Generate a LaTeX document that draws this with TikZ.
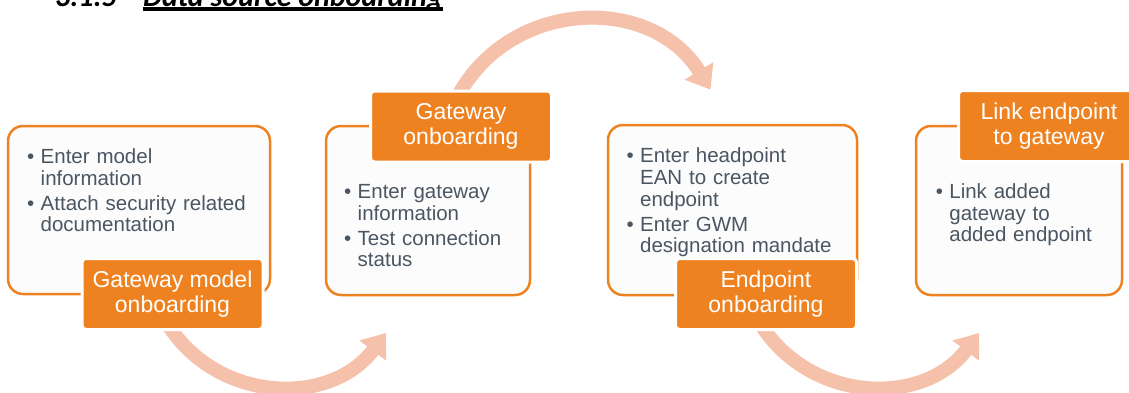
\documentclass[tikz,border=0pt]{standalone}
\usepackage{fontspec}
\setmainfont{Liberation Sans}
\newfontfamily\headfont{Carlito}
\usepackage{xcolor}
\usetikzlibrary{arrows.meta}

\definecolor{stepor}{HTML}{EF8220}
\definecolor{flowor}{HTML}{F5C1AB}
\definecolor{bodygray}{HTML}{4A5661}
\definecolor{boxfill}{HTML}{FCFCFC}

% one bullet line with hanging indent
\newcommand{\bitem}[1]{\setlength{\parskip}{3.3pt}\hangindent=13.5pt\hangafter=1\noindent\strut\makebox[13.5pt][l]{\textbullet}#1\par}

\begin{document}
\begin{tikzpicture}[x=1pt,y=1pt,
    stepbox/.style={draw=stepor, fill=boxfill, line width=2.5pt, rounded corners=15pt, inner sep=0pt},
    steplabel/.style={fill=stepor, draw=white, line width=3pt, rounded corners=4pt, minimum width=181pt, minimum height=71pt, inner sep=0pt, align=center, text=white, font=\fontsize{23}{25}\selectfont},
    bodytext/.style={anchor=north west, inner sep=0pt, align=left, text=bodygray, font=\fontsize{20.5}{21.7}\selectfont},
    titletext/.style={anchor=base west, inner sep=0pt, font=\headfont\bfseries\itshape\fontsize{30}{36}\selectfont},
    flow/.style={draw=flowor, line width=14pt, -{Triangle[width=32pt,length=22pt]}}]
    \useasboundingbox (0,0) rectangle (1129,392);
    \clip (0,0) rectangle (1129,392);

    % Heading (cut at the top)
    \node[titletext] (num) at (55,385.5) {3.1.5};
    \node[titletext] (ttl) at (143,385.5) {Data source onboarding};
    \draw[line width=3.4pt] ([yshift=-2.7pt]ttl.base west) -- ([yshift=-2.7pt]ttl.base east);

    % Step boxes
    \node[stepbox, minimum width=262pt, minimum height=168pt] (b1) at (139,182) {};
    \node[stepbox, minimum width=204pt, minimum height=169pt] (b2) at (428,181.5) {};
    \node[stepbox, minimum width=249pt, minimum height=170pt] (b3) at (732.5,182) {};
    \node[stepbox, minimum width=206pt, minimum height=169pt] (b4) at (1019,181.5) {};

    % Box texts
    \node[bodytext, text width=240pt] (t1) at (27,243.9)
        {\bitem{Enter model\newline information}\bitem{Attach security related\newline documentation}};
    \node[bodytext, text width=180pt] (t2) at (344,208.9)
        {\bitem{Enter gateway\newline information}\bitem{Test connection\newline status}};
    \node[bodytext, text width=225pt] (t3) at (626.4,244.5)
        {\bitem{Enter headpoint\newline EAN to create\newline endpoint}\bitem{Enter GWM\newline designation mandate}};
    \node[bodytext, text width=180pt] (t4) at (935.7,208.9)
        {\bitem{Link added\newline gateway to\newline added endpoint}};

    % Curved arrows between steps
    \coordinate (a1s) at (167.2,68.5);
    \coordinate (a1e) at (386,59);
    \coordinate (a2s) at (458.3,296.8);
    \coordinate (a2e) at (710.5,302.3);
    \coordinate (a3s) at (760.2,68.5);
    \coordinate (a3e) at (979,59);
    \draw[flow] (a1s) to[out=-58, in=-127, looseness=1.09] (a1e);
    \draw[flow] (a2s) to[out=61, in=121.5, looseness=1.13] (a2e);
    \draw[flow] (a3s) to[out=-58, in=-127, looseness=1.09] (a3e);

    % Step labels
    \node[steplabel] (l1) at (172.5,98) {Gateway model\\onboarding};
    \node[steplabel] (l2) at (461,265.5) {Gateway\\onboarding};
    \node[steplabel] (l3) at (766,98) {Endpoint\\onboarding};
    \node[steplabel] (l4) at (1049,266) {Link endpoint\\to gateway};
\end{tikzpicture}
\end{document}
